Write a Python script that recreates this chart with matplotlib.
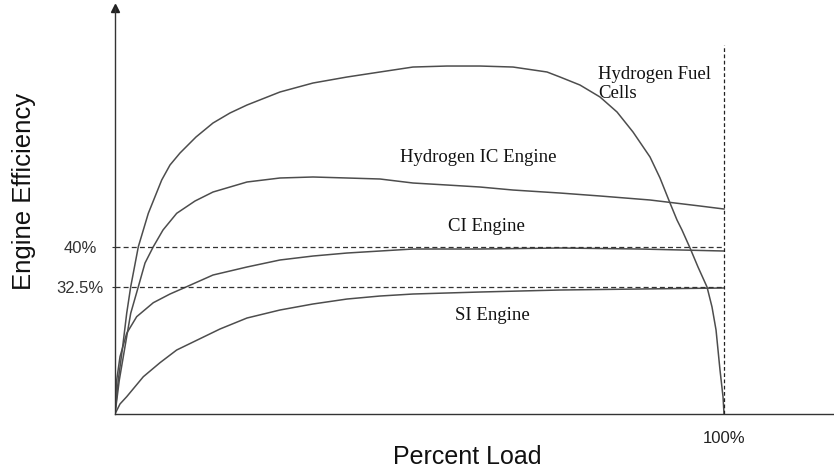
import matplotlib
matplotlib.use("Agg")
import matplotlib.pyplot as plt

# percent load (x) and relative efficiency (y)
fc_load = [0, 0.54, 1.26, 1.92, 2.58, 3.83, 5.47, 7.67, 9.03, 10.67, 13.30, 16.09,
           18.88, 21.67, 27.09, 32.51, 38.10, 43.51, 48.93, 54.52, 59.93, 65.35,
           70.94, 73.07, 76.35, 79.64, 82.43, 85.06, 87.85, 89.49, 91.13, 92.28,
           93.10, 94.42, 95.73, 97.21, 98.03, 98.69, 99.34, 99.84, 100]
fc_eff = [0, 8.14, 16.12, 24.12, 30.49, 40.07, 48.07, 56.05, 59.64, 62.51, 66.35, 69.70,
          72.10, 74.01, 77.13, 79.28, 80.72, 81.92, 83.11, 83.35, 83.35, 83.11,
          81.92, 80.72, 78.80, 75.93, 72.34, 67.54, 61.56, 56.53, 50.54, 46.47,
          44.07, 39.76, 35.21, 30.42, 25.63, 20.12, 10.54, 4.07, 0]

ic_load = [0, 0.71, 1.64, 2.58, 3.83, 4.93, 6.29, 7.88, 10.13, 13.14, 16.09, 21.67,
           27.09, 32.51, 38.10, 43.51, 48.93, 54.52, 59.93, 65.35, 73.07, 79.64,
           87.85, 96.06, 100]
ic_eff = [0, 8.14, 16.12, 24.12, 30.49, 36.17, 40.07, 44.07, 48.07, 51.02, 53.17, 55.57,
          56.53, 56.77, 56.53, 56.29, 55.33, 54.85, 54.37, 53.65, 52.93, 52.22,
          51.26, 49.82, 49.10]

ci_load = [0, 0.28, 0.82, 1.92, 3.56, 6.29, 9.03, 11.77, 16.09, 21.67, 27.09, 32.51,
           38.10, 43.51, 48.93, 59.93, 73.07, 86.21, 100]
ci_eff = [0, 8.14, 13.72, 19.33, 23.31, 26.66, 28.74, 30.49, 33.29, 35.21, 36.89, 37.84,
          38.56, 39.04, 39.52, 39.52, 39.76, 39.52, 39.04]

si_load = [0, 0.82, 1.92, 4.65, 7.39, 10.13, 17.24, 21.67, 27.09, 32.51, 38.10, 43.51,
           48.93, 59.93, 73.07, 86.21, 100]
si_eff = [0, 2.40, 4.14, 8.93, 12.29, 15.33, 20.36, 22.99, 24.91, 26.35, 27.54, 28.26,
          28.74, 29.22, 29.70, 29.94, 30.18]

ref_levels = [40.0, 30.42]
ref_labels = ["40%", "32.5%"]
full_load = 100
full_load_label = "100%"

SANS = "Liberation Sans"
SERIF = "Liberation Serif"
LINE = "#4d4d4d"

fig = plt.figure(figsize=(8.34, 4.70), dpi=100)
ax = fig.add_axes([115 / 834, 56 / 470, 719 / 834, 406 / 470])
ax.set_xlim(0, 118.06)
ax.set_ylim(0, 97.25)

for x, y in [(fc_load, fc_eff), (ic_load, ic_eff), (ci_load, ci_eff), (si_load, si_eff)]:
    ax.plot(x, y, color=LINE, lw=1.1, solid_joinstyle="round")

for lvl in ref_levels:
    ax.plot([0, full_load], [lvl, lvl], color="#333333", lw=0.9, dashes=(4, 2.5))
ax.plot([full_load, full_load], [0, 88.4], color="#222222", lw=0.9, dashes=(3, 2))

for s in ["top", "right"]:
    ax.spines[s].set_visible(False)
for s in ["left", "bottom"]:
    ax.spines[s].set_color("#333333")
    ax.spines[s].set_linewidth(1.0)

# arrow head on the y axis
ax.plot(0, 97.25, marker="^", ms=6, color="#222222", clip_on=False)

ax.set_yticks(ref_levels)
ax.set_yticklabels(ref_labels, fontfamily=SANS, fontsize=12, color="#333333", ha="center")
ax.tick_params(axis="y", length=2, pad=23, color="#333333")
ax.set_xticks([full_load])
ax.set_xticklabels([full_load_label], fontfamily=SANS, fontsize=12, color="#222222")
ax.tick_params(axis="x", length=0, pad=12)

txt = dict(fontfamily=SERIF, fontsize=13.5, color="#111111", va="baseline")
ax.text(79.3, 80.2, "Hydrogen Fuel", **txt)
ax.text(79.3, 75.6, "Cells", **txt)
ax.text(46.8, 60.4, "Hydrogen IC Engine", **txt)
ax.text(54.7, 43.8, "CI Engine", **txt)
ax.text(55.8, 22.5, "SI Engine", **txt)

fig.text(24 / 834, 1 - 191 / 470, "Engine Efficiency", rotation=90, ha="center",
         va="center", fontfamily=SANS, fontsize=18.5, color="#111111")
fig.text(467 / 834, 1 - 464 / 470, "Percent Load", ha="center", va="baseline",
         fontfamily=SANS, fontsize=18, color="#111111")

fig.savefig("out.png", dpi=100)
